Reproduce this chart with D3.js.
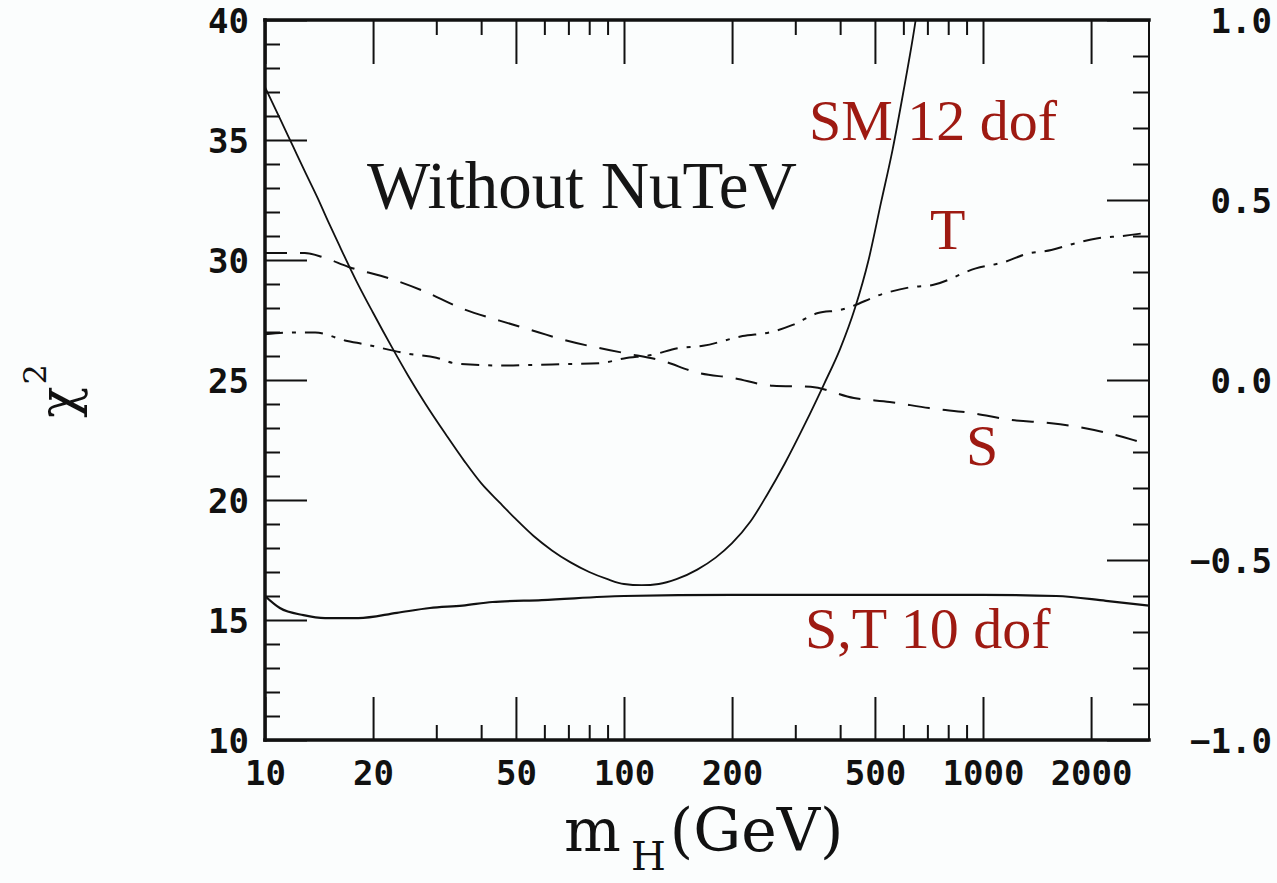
<!DOCTYPE html>
<html>
<head>
<meta charset="utf-8">
<script src="https://cdn.jsdelivr.net/npm/d3@7"></script>
<style>
    body { margin: 0; background: #fbfdfd; }
    .tick-label text { font-family: "DejaVu Sans Mono", monospace; font-weight: bold; font-size: 34px; fill: #111; }
    .note { font-family: "Liberation Serif", "Times New Roman", serif; }
</style>
</head>
<body>
<div id="chart"></div>
<script>

// x axis: Higgs mass (GeV), log scale
const massTicksMajor = [10, 20, 50, 100, 200, 500, 1000, 2000];
const massTicksMinor = [30, 40, 60, 70, 80, 90, 300, 400, 600, 700, 800, 900];
// left axis: chi^2, right axis: S / T
const chi2Ticks = [10, 15, 20, 25, 30, 35, 40];
const stTicks = [-1.0, -0.5, 0.0, 0.5, 1.0];

// SM fit, 12 dof (solid, left axis)
const smMass = [10, 11, 12, 13, 14, 15, 16, 18, 20, 22.5, 25, 28, 32, 36, 40, 45, 50, 56, 63, 71, 80, 90, 100, 112, 125, 140, 160, 180, 200, 225, 250, 280, 320, 360, 400, 440, 480, 520, 560, 600, 640, 680];
const smChi2 = [37.2, 35.9, 34.7, 33.6, 32.6, 31.6, 30.7, 29.1, 27.8, 26.4, 25.2, 24.0, 22.7, 21.6, 20.7, 19.9, 19.2, 18.5, 17.9, 17.4, 17.0, 16.7, 16.5, 16.45, 16.5, 16.7, 17.1, 17.6, 18.2, 19.1, 20.2, 21.5, 23.2, 24.8, 26.3, 28.0, 30.0, 32.4, 34.6, 37.0, 39.4, 42.0];

// S,T fit, 10 dof (solid, left axis)
const stMass = [10, 11, 12.8, 14.7, 18.2, 23.3, 28.8, 35.5, 43, 59, 100, 200, 500, 1000, 1600, 2200, 2900];
const stChi2 = [16.0, 15.5, 15.2, 15.08, 15.08, 15.3, 15.5, 15.6, 15.75, 15.83, 16.0, 16.05, 16.05, 16.05, 16.0, 15.8, 15.6];

// S (dashed, right axis)
const sMass = [10, 12.9, 14.5, 17.1, 22.4, 27.5, 35.5, 45, 58, 66, 100, 126, 162, 200, 260, 331, 437, 550, 708, 933, 1200, 1550, 2040, 2630, 2900];
const sValue = [0.353, 0.353, 0.341, 0.314, 0.281, 0.248, 0.198, 0.165, 0.132, 0.115, 0.075, 0.055, 0.019, 0.006, -0.016, -0.019, -0.05, -0.061, -0.078, -0.092, -0.111, -0.12, -0.139, -0.167, -0.18];

// T (dash-dot, right axis)
const tMass = [10, 12.1, 13.8, 16.7, 19, 25, 30, 34, 47, 56, 68, 86, 100, 120, 141, 166, 214, 257, 295, 347, 398, 537, 631, 724, 955, 1150, 1320, 1550, 1780, 2090, 2450, 2900];
const tValue = [0.127, 0.132, 0.132, 0.11, 0.099, 0.073, 0.062, 0.046, 0.04, 0.042, 0.044, 0.047, 0.06, 0.07, 0.088, 0.095, 0.122, 0.133, 0.153, 0.186, 0.194, 0.242, 0.258, 0.264, 0.31, 0.328, 0.35, 0.361, 0.378, 0.394, 0.40, 0.41];

class ChiSquareChart {

    constructor(parentElement) {
        this.parentElement = parentElement;
        this.initVis();
    }

    initVis() {
        let vis = this;

        vis.margin = {top: 20, right: 128, bottom: 143, left: 265};
        vis.width = 1277 - vis.margin.left - vis.margin.right;
        vis.height = 883 - vis.margin.top - vis.margin.bottom;

        vis.root = d3.select("#" + vis.parentElement).append("svg")
            .attr("width", 1277)
            .attr("height", 883);

        vis.svg = vis.root.append("g")
            .attr("transform", "translate(" + vis.margin.left + "," + vis.margin.top + ")");

        // scales
        vis.x = d3.scaleLog().domain([10, 2900]).range([0, vis.width]);
        vis.y = d3.scaleLinear().domain([10, 40]).range([vis.height, 0]);
        vis.y2 = d3.scaleLinear().domain([-1, 1]).range([vis.height, 0]);

        vis.svg.append("defs").append("clipPath")
            .attr("id", "plot-clip")
            .append("rect")
            .attr("width", vis.width)
            .attr("height", vis.height);

        vis.drawAxes();
        vis.updateVis();
    }

    drawAxes() {
        let vis = this;
        let minorChi2 = d3.range(11, 40).filter(d => d % 5 !== 0);
        let minorST = d3.range(-9, 10).filter(d => d % 5 !== 0).map(d => d / 10);

        let addAxis = (axis, transform, cls) => {
            let g = vis.svg.append("g")
                .attr("class", cls)
                .attr("transform", transform)
                .call(axis);
            g.select(".domain").remove();
            g.selectAll(".tick line").attr("stroke", "#111").attr("stroke-width", 2);
            return g;
        };

        // left chi^2 axis
        let left = addAxis(d3.axisLeft(vis.y).tickValues(chi2Ticks).tickSize(-42).tickPadding(16)
            .tickFormat(d3.format("d")), "translate(0,0)", "tick-label");
        left.selectAll("text").attr("dy", "0.36em");
        addAxis(d3.axisLeft(vis.y).tickValues(minorChi2).tickSize(-15).tickFormat(""), "translate(0,0)", "minor");

        // right S,T axis
        let right = addAxis(d3.axisRight(vis.y2).tickValues(stTicks).tickSize(-42)
            .tickFormat(d3.format(".1f")), "translate(" + vis.width + ",0)", "tick-label");
        right.selectAll("text").attr("x", 123).attr("text-anchor", "end").attr("dy", "0.36em");
        addAxis(d3.axisRight(vis.y2).tickValues(minorST).tickSize(-16).tickFormat(""), "translate(" + vis.width + ",0)", "minor");

        // bottom mass axis
        let bottom = addAxis(d3.axisBottom(vis.x).tickValues(massTicksMajor).tickSize(-43).tickPadding(21)
            .tickFormat(d3.format("d")), "translate(0," + vis.height + ")", "tick-label");
        bottom.selectAll("text").attr("dy", "0.71em");
        addAxis(d3.axisBottom(vis.x).tickValues(massTicksMinor).tickSize(-15).tickFormat(""), "translate(0," + vis.height + ")", "minor");

        // top mirrored ticks
        addAxis(d3.axisTop(vis.x).tickValues(massTicksMajor).tickSize(-44).tickFormat(""), "translate(0,0)", "minor");
        addAxis(d3.axisTop(vis.x).tickValues(massTicksMinor).tickSize(-15).tickFormat(""), "translate(0,0)", "minor");

        // frame
        let frame = [
            [0, 0, vis.width, 0, 3.5],
            [0, vis.height, vis.width, vis.height, 3.5],
            [0, 0, 0, vis.height, 3.5],
            [vis.width, 0, vis.width, vis.height, 2]
        ];
        vis.svg.selectAll("line.frame")
            .data(frame)
            .enter()
            .append("line")
            .attr("class", "frame")
            .attr("x1", d => d[0]).attr("y1", d => d[1])
            .attr("x2", d => d[2]).attr("y2", d => d[3])
            .attr("stroke", "#111")
            .attr("stroke-width", d => d[4])
            .attr("stroke-linecap", "square");

        // axis titles
        let ylab = vis.root.append("text")
            .attr("transform", "translate(76,418) rotate(-90)")
            .attr("font-family", "DejaVu Serif, serif")
            .attr("font-size", 52)
            .attr("fill", "#111");
        ylab.append("tspan").text("χ");
        ylab.append("tspan").attr("dy", -30).attr("dx", 2).attr("font-size", 32).text("2");

        let xlab = vis.root.append("text")
            .attr("x", 564)
            .attr("y", 851)
            .attr("font-family", "DejaVu Serif, serif")
            .attr("font-size", 60)
            .attr("fill", "#111");
        xlab.append("tspan").text("m");
        xlab.append("tspan").attr("dy", 19).attr("dx", 10).attr("font-size", 40).text("H");
        xlab.append("tspan").attr("dy", -19).attr("dx", 4).text("(GeV)");
    }

    updateVis() {
        let vis = this;

        let plot = vis.svg.append("g").attr("clip-path", "url(#plot-clip)");

        let chiLine = d3.line()
            .x(d => vis.x(d[0]))
            .y(d => vis.y(d[1]))
            .curve(d3.curveMonotoneX);
        let stLine = d3.line()
            .x(d => vis.x(d[0]))
            .y(d => vis.y2(d[1]))
            .curve(d3.curveMonotoneX);

        let series = [
            {pts: d3.zip(smMass, smChi2), line: chiLine, dash: null, w: 1.8},
            {pts: d3.zip(stMass, stChi2), line: chiLine, dash: null, w: 2.2},
            {pts: d3.zip(sMass, sValue), line: stLine, dash: "22,13", w: 2},
            {pts: d3.zip(tMass, tValue), line: stLine, dash: "18,9,4,9", w: 2}
        ];

        plot.selectAll("path.curve")
            .data(series)
            .enter()
            .append("path")
            .attr("class", "curve")
            .attr("d", d => d.line(d.pts))
            .attr("fill", "none")
            .attr("stroke", "#111")
            .attr("stroke-width", d => d.w)
            .attr("stroke-dasharray", d => d.dash);

        // annotations (positions in pixel space of the original figure)
        let notes = [
            {text: "Without NuTeV", x: 367, y: 208, size: 67, color: "#151515"},
            {text: "SM 12 dof", x: 809, y: 140, size: 58, color: "#9e1a12"},
            {text: "T", x: 930, y: 249, size: 58, color: "#9e1a12"},
            {text: "S", x: 966, y: 465, size: 58, color: "#9e1a12"},
            {text: "S,T 10 dof", x: 805, y: 648, size: 58, color: "#9e1a12"}
        ];
        vis.root.selectAll("text.note")
            .data(notes)
            .enter()
            .append("text")
            .attr("class", "note")
            .attr("x", d => d.x)
            .attr("y", d => d.y)
            .attr("font-size", d => d.size)
            .attr("fill", d => d.color)
            .text(d => d.text);

        vis.svg.node().appendChild(plot.node());
    }
}

new ChiSquareChart("chart");

</script>
</body>
</html>
